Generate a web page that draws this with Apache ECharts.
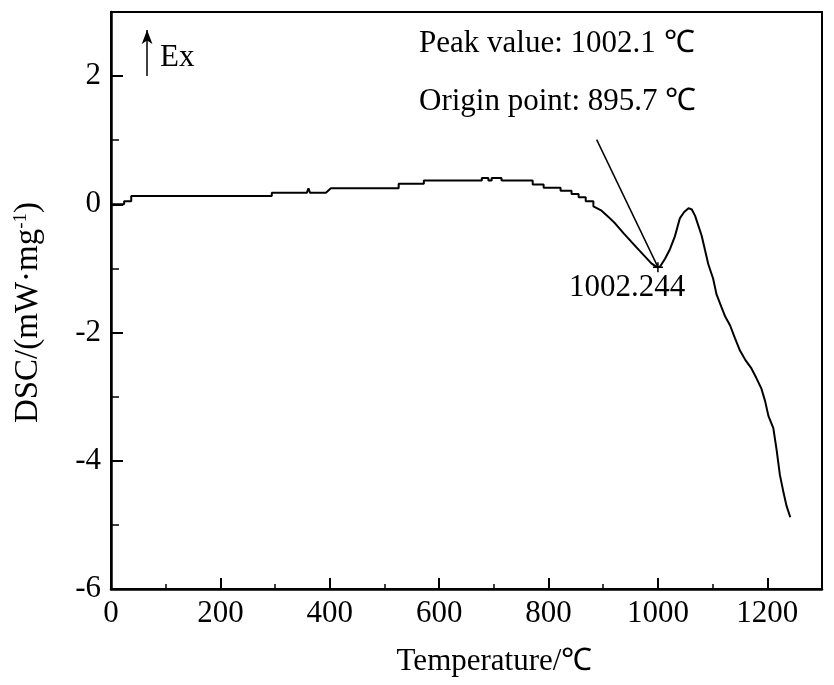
<!DOCTYPE html>
<html>
<head>
<meta charset="utf-8">
<script src="https://cdn.jsdelivr.net/npm/echarts@6/dist/echarts.min.js"></script>
<style>
    html, body { margin: 0; padding: 0; background: #fff; }
    #dscChart { width: 834px; height: 685px; }
</style>
</head>
<body>
<div id="dscChart"></div>
<script>
// 温度 (℃) 与 DSC 信号 (mW/mg)
var temperature = [0, 24, 24, 37, 37, 294, 294, 358, 361, 364, 393, 402, 526, 526, 572, 572,
    678, 678, 690, 690, 696, 696, 714, 714, 771, 771, 791, 791, 822, 822, 842, 842, 855, 855,
    868, 868, 882, 882, 897, 910, 922, 937, 952, 965, 977, 988, 998, 1004, 1013, 1022, 1031,
    1040, 1048, 1056, 1062, 1068, 1080, 1092, 1101, 1107, 1116, 1123, 1132, 1141, 1150, 1160,
    1171, 1180, 1189, 1196, 1202, 1211, 1217, 1223, 1229, 1235, 1242];
var dsc = [0, 0, 0.05, 0.05, 0.13, 0.13, 0.18, 0.18, 0.25, 0.18, 0.18, 0.25, 0.25, 0.32, 0.32, 0.37,
    0.37, 0.41, 0.41, 0.37, 0.37, 0.41, 0.41, 0.37, 0.37, 0.31, 0.31, 0.26, 0.26, 0.21, 0.21, 0.16, 0.16, 0.11,
    0.11, 0.05, 0.05, -0.03, -0.10, -0.20, -0.30, -0.45, -0.59, -0.71, -0.82, -0.92, -0.98, -0.97, -0.85, -0.70, -0.50,
    -0.22, -0.12, -0.06, -0.08, -0.18, -0.49, -0.93, -1.16, -1.40, -1.60, -1.75, -1.89, -2.09, -2.28, -2.43,
    -2.56, -2.71, -2.87, -3.07, -3.30, -3.49, -3.83, -4.22, -4.47, -4.70, -4.88];

// 坐标轴
var xTicks = [0, 200, 400, 600, 800, 1000, 1200];
var yTicks = [-6, -4, -2, 0, 2];

// 标注
var exArrow = [[66, 2.0], [66, 2.72]];
var leaderLine = [[888, 1.01], [1000, -0.98]];
var minPoint = [1000, -0.98];
var peakText = 'Peak value: 1002.1 ℃';
var originText = 'Origin point: 895.7 ℃';
var minText = '1002.244';

var FONT = '"Liberation Serif", "Times New Roman", serif';

function buildSeriesData() {
    var arr = [];
    temperature.forEach(function (t, i) {
        arr.push([t, dsc[i]]);
    });
    return arr;
}

function renderChart() {
    var chart = echarts.init(document.getElementById('dscChart'));
    var option = {
        backgroundColor: '#fff',
        animation: false,
        grid: {
            left: 111, right: 12, top: 12, bottom: 96,
            show: true, borderColor: '#000', borderWidth: 2, backgroundColor: 'transparent'
        },
        xAxis: {
            type: 'value',
            min: 0, max: 1300, interval: 200,
            name: 'Temperature/℃',
            nameLocation: 'middle',
            nameGap: 57,
            nameTextStyle: { fontFamily: FONT, fontSize: 31, color: '#000', padding: [0, 0, 0, 56] },
            axisLine: { show: true, onZero: false, lineStyle: { color: '#000', width: 2.5 } },
            axisTick: { show: true, inside: true, length: 11, lineStyle: { color: '#000', width: 2 } },
            minorTick: { show: true, splitNumber: 2, length: 5, lineStyle: { color: '#000', width: 1.5 } },
            axisLabel: {
                margin: 9,
                fontFamily: FONT, fontSize: 31, color: '#000',
                formatter: function (v) { return xTicks.indexOf(v) > -1 ? String(v) : ''; }
            },
            splitLine: { show: false }
        },
        yAxis: {
            type: 'value',
            min: -6, max: 3, interval: 2,
            name: 'DSC/(mW·mg{sup|-1})',
            nameLocation: 'middle',
            nameGap: 66,
            nameTextStyle: {
                fontFamily: FONT, fontSize: 33, color: '#000', padding: [0, 24, 0, 0],
                rich: { sup: { fontFamily: FONT, fontSize: 19, color: '#000', verticalAlign: 'top', padding: [0, 0, 14, 0] } }
            },
            axisLine: { show: true, onZero: false, lineStyle: { color: '#000', width: 2.5 } },
            axisTick: { show: true, inside: true, length: 12, lineStyle: { color: '#000', width: 2 } },
            minorTick: { show: true, splitNumber: 2, length: 8, lineStyle: { color: '#000', width: 1.5 } },
            axisLabel: {
                margin: 10,
                fontFamily: FONT, fontSize: 31, color: '#000',
                formatter: function (v) { return yTicks.indexOf(v) > -1 ? String(v) : ''; }
            },
            splitLine: { show: false }
        },
        series: [{
            type: 'line',
            data: buildSeriesData(),
            showSymbol: false,
            lineStyle: { color: '#000', width: 2 },
            markLine: {
                silent: true,
                animation: false,
                label: { show: false },
                data: [
                    [{ coord: exArrow[0], symbol: 'none' },
                     { coord: exArrow[1], symbol: 'arrow', symbolSize: [8, 14] }],
                    [{ coord: leaderLine[0], symbol: 'none' },
                     { coord: leaderLine[1], symbol: 'none' }]
                ],
                lineStyle: { color: '#000', width: 1.5, type: 'solid' }
            },
            markPoint: {
                silent: true,
                animation: false,
                symbol: 'path://M0,5L10,5M5,0L5,10',
                symbolSize: 10,
                itemStyle: { color: 'none', borderColor: '#000', borderWidth: 1.5 },
                label: { show: false },
                data: [{ coord: minPoint }]
            }
        }],
        graphic: [
            { type: 'text', left: 160, top: 42, style: { text: 'Ex', font: '31px ' + FONT, fill: '#000' } },
            { type: 'text', left: 419, top: 28, style: { text: peakText, font: '31px ' + FONT, fill: '#000' } },
            { type: 'text', left: 419, top: 86, style: { text: originText, font: '31px ' + FONT, fill: '#000' } },
            { type: 'text', left: 569, top: 272, style: { text: minText, font: '31px ' + FONT, fill: '#000' } }
        ]
    };
    chart.setOption(option);
}

renderChart();
</script>
</body>
</html>
